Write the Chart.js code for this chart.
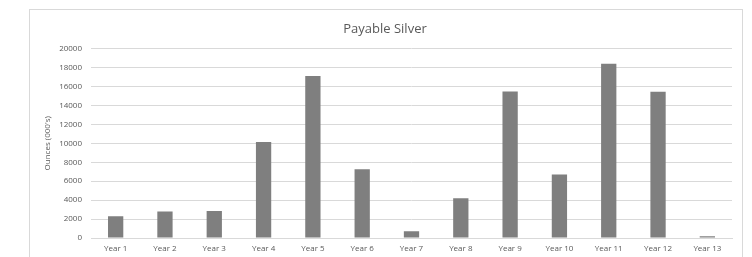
<!DOCTYPE html>
<html lang="en">
<head>
    <meta charset="UTF-8">
    <title>Payable Silver</title>
    <script src="https://cdn.jsdelivr.net/npm/chart.js"></script>
    <style>
        body { margin: 0; background: #fff; overflow: hidden; }
        #box { position: absolute; left: 29px; top: 9px; width: 712px; height: 262px; border: 1px solid #d9d9d9; }
    </style>
</head>
<body>
<div id="box"><canvas id="silverChart" width="712" height="262"></canvas></div>
<script>
    const years = ['Year 1', 'Year 2', 'Year 3', 'Year 4', 'Year 5', 'Year 6', 'Year 7',
        'Year 8', 'Year 9', 'Year 10', 'Year 11', 'Year 12', 'Year 13'];
    const ounces = [2300, 2800, 2860, 10150, 17100, 7270, 700, 4200, 15480, 6700, 18400, 15450, 180];
    const yTicks = [0, 2000, 4000, 6000, 8000, 10000, 12000, 14000, 16000, 18000, 20000];

    const textColor = '#595959';
    const font = { family: 'Open Sans', size: 8 };

    const ctx = document.getElementById('silverChart').getContext('2d');
    new Chart(ctx, {
        type: 'bar',
        data: {
            labels: years,
            datasets: [{
                label: 'Payable Silver',
                data: ounces,
                backgroundColor: '#7f7f7f',
                categoryPercentage: 1,
                barPercentage: 0.31
            }]
        },
        options: {
            responsive: false,
            animation: false,
            layout: { padding: { left: 8, right: 10, top: 0, bottom: 0 } },
            plugins: {
                legend: { display: false },
                tooltip: { enabled: false },
                title: {
                    display: true,
                    text: 'Payable Silver',
                    color: textColor,
                    font: { family: 'Open Sans', size: 13, weight: 'normal' },
                    padding: { top: 11, bottom: 12 }
                }
            },
            scales: {
                x: {
                    grid: { display: false, drawTicks: false },
                    border: { display: true, color: '#d9d9d9' },
                    ticks: { color: textColor, font, padding: 6, maxRotation: 0, autoSkip: false },
                    afterFit: s => { s.height = 34; }
                },
                y: {
                    min: 0,
                    max: 20000,
                    afterBuildTicks: s => { s.ticks = yTicks.map(v => ({ value: v })); },
                    grid: { color: '#d9d9d9', drawTicks: false },
                    border: { display: false },
                    ticks: { color: textColor, font, padding: 9, callback: v => String(v) },
                    title: { display: true, text: "Ounces (000's)", color: textColor, font, padding: { top: 5, bottom: 0 } },
                    afterFit: s => { s.width = 53; }
                }
            }
        }
    });
</script>
</body>
</html>
